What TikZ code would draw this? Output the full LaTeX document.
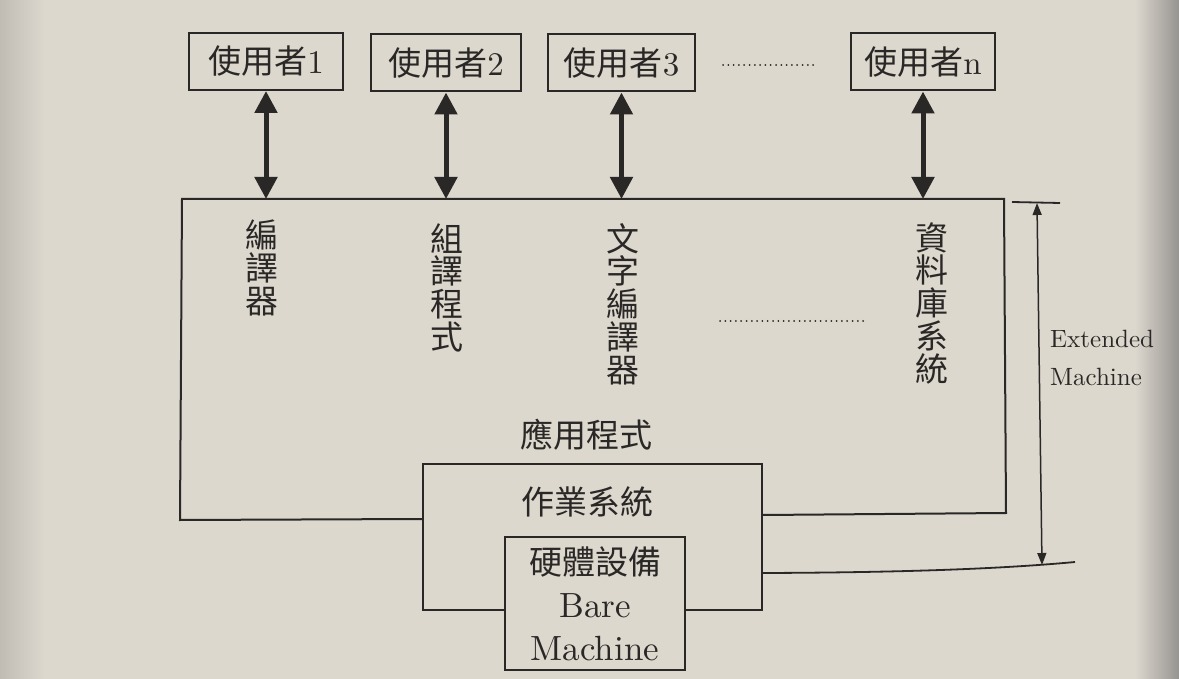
\documentclass[tikz,border=0pt]{standalone}
\usepackage{fontspec}
\setmainfont{lmroman10-regular}[Extension=.otf]
\newfontfamily\cjk{Noto Sans CJK TC}
\usetikzlibrary{arrows.meta}
\definecolor{paper}{RGB}{221,216,206}
\definecolor{paperdark}{RGB}{150,148,145}
\definecolor{ink}{RGB}{42,40,38}
\newcommand\setfs[2]{\fontsize{#1}{#2}\selectfont}

\begin{document}
\begin{tikzpicture}[x=1pt,y=-1pt,
  line join=miter,
  box/.style={draw=ink, line width=2pt, fill=paper, inner sep=0pt, text=ink},
  userbox/.style={box, minimum height=57pt, font=\setfs{33}{36}},
  vcol/.style={anchor=north, align=center, inner sep=0pt, text=ink,
               font=\cjk\setfs{33}{32.8}},
  hlabel/.style={inner sep=0pt, text=ink, font=\cjk\setfs{33}{36}},
  bigarrow/.style={draw=ink, line width=5pt,
    {Triangle[length=22pt,width=22pt]}-{Triangle[length=22pt,width=22pt]}},
  dimarrow/.style={draw=ink, line width=1.5pt,
    {Triangle[length=12pt,width=9pt]}-{Triangle[length=12pt,width=9pt]}},
  outline/.style={draw=ink, line width=2pt},
  dotline/.style={draw=ink, line width=2pt, line cap=round,
    dash pattern=on 0pt off 5.3pt}]

% paper
\useasboundingbox (0,0) rectangle (1179,679);
\fill[paper] (0,0) rectangle (1179,679);
\shade[left color={rgb,255:red,192;green,188;blue,180}, right color=paper]
  (0,0) rectangle (45,679);
\shade[left color=paper, right color=paperdark] (1135,0) rectangle (1179,679);

% users
\node[userbox, minimum width=154pt] (u1) at (266,61.5) {{\cjk 使用者}1};
\node[userbox, minimum width=150pt] (u2) at (446,63) {{\cjk 使用者}2};
\node[userbox, minimum width=147pt] (u3) at (621.5,63) {{\cjk 使用者}3};
\node[userbox, minimum width=144pt] (un) at (923,62) {{\cjk 使用者}n};
\draw[dotline] (723,65) -- (818,65);

% operating system layer
\node[box, minimum width=339pt, minimum height=146pt] (os) at (592.5,537) {};
\node[hlabel] (osl) at (587,502) {作業系統};

% application layer outline, open where the OS box sits
\coordinate (apptop) at (0,199);
\draw[outline] (os.west |- 0,519) -- (180,520) -- (182,199)
  -- (1004,199) -- (1006,513) -- (os.east |- 0,515);

% hardware layer
\node[box, minimum width=180pt, minimum height=133pt, align=center,
      font=\setfs{35}{43}] (hw) at (595,603.5)
  {{\cjk\setfs{33}{43}硬體設備}\\Bare\\Machine};

% applications
\node[vcol] (c1) at (262,220) {編\\譯\\器};
\node[vcol] (c2) at (447,223) {組\\譯\\程\\式};
\node[vcol] (c3) at (623,223) {文\\字\\編\\譯\\器};
\node[vcol] (c4) at (932,222) {資\\料\\庫\\系\\統};
\draw[dotline] (720,321) -- (867,321);
\node[hlabel] (appl) at (586,435) {應用程式};

% user <-> application arrows
\draw[bigarrow] (u1.south) -- (u1.south |- apptop);
\draw[bigarrow] (u2.south) -- (u2.south |- apptop);
\draw[bigarrow] (u3.south) -- (u3.south |- apptop);
\draw[bigarrow] (un.south) -- (un.south |- apptop);

% extended machine span
\coordinate (emtop) at (1037,203);
\coordinate (embot) at (1042,565);
\draw[outline, line width=1.8pt] (1012,202) -- (1060,203);
\draw[outline, line width=1.8pt] (os.east |- 0,573)
  .. controls (900,572.5) and (1000,569) .. (1075,562);
\draw[dimarrow] (emtop) -- (embot);
\node[anchor=north west, align=left, inner sep=0pt, text=ink,
      font=\setfs{25}{38}] (em) at (1050,330) {Extended\\Machine};

\end{tikzpicture}
\end{document}
